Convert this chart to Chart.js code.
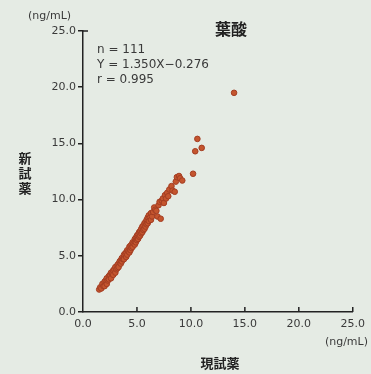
<!DOCTYPE html>
<html>
<head>
<meta charset="utf-8">
<script src="https://cdn.jsdelivr.net/npm/chart.js@4/dist/chart.umd.min.js"></script>
<style>
  html, body { margin: 0; padding: 0; background: #e5ebe4; }
  #wrap { width: 371px; height: 374px; }
</style>
</head>
<body>
<div id="wrap"><canvas id="folateChart" width="371" height="374"></canvas></div>
<script>
// 現試薬 (x) vs 新試薬 (y), ng/mL
const currentReagent = [
  1.5, 1.6, 1.7, 1.8, 1.9, 2.0, 2.0, 2.1, 2.2, 2.2,
  2.3, 2.4, 2.4, 2.5, 2.6, 2.6, 2.7, 2.8, 2.8, 2.9,
  3.0, 3.0, 3.1, 3.2, 3.2, 3.3, 3.3, 3.4, 3.5, 3.5,
  3.6, 3.6, 3.7, 3.8, 3.8, 3.9, 4.0, 4.0, 4.1, 4.1,
  4.2, 4.3, 4.3, 4.4, 4.4, 4.5, 4.5, 4.6, 4.6, 4.7,
  4.8, 4.8, 4.9, 4.9, 5.0, 5.0, 5.1, 5.1, 5.2, 5.2,
  5.3, 5.3, 5.4, 5.4, 5.5, 5.5, 5.6, 5.6, 5.7, 5.7,
  5.8, 5.8, 5.9, 5.9, 6.0, 6.0, 6.1, 6.1, 6.2, 6.3,
  6.3, 6.4, 6.5, 6.6, 6.7, 6.8, 6.9, 7.0, 7.1, 7.2,
  7.3, 7.4, 7.5, 7.6, 7.7, 7.8, 7.9, 8.0, 8.2, 8.3,
  8.5, 8.6, 8.7, 8.9, 9.0, 9.2, 10.2, 10.4, 11.0, 10.6,
  14.0
];
const newReagent = [
  2.0, 2.2, 2.1, 2.5, 2.3, 2.7, 2.3, 2.8, 2.5, 3.0,
  2.8, 3.2, 2.9, 3.3, 3.5, 3.0, 3.4, 3.7, 3.3, 3.8,
  3.5, 4.0, 3.8, 4.2, 3.9, 4.3, 4.0, 4.5, 4.6, 4.3,
  4.8, 4.5, 4.7, 5.1, 4.7, 5.2, 5.3, 4.9, 5.5, 5.1,
  5.4, 5.8, 5.3, 5.9, 5.5, 6.0, 5.7, 6.2, 5.8, 6.1,
  6.5, 6.0, 6.6, 6.2, 6.8, 6.4, 6.9, 6.5, 7.1, 6.7,
  7.2, 6.8, 7.4, 7.0, 7.6, 7.1, 7.7, 7.3, 7.9, 7.4,
  8.0, 7.6, 8.2, 7.8, 8.4, 7.9, 8.6, 8.1, 8.4, 8.2,
  8.8, 8.5, 8.9, 9.3, 9.1, 9.0, 8.5, 9.5, 9.8, 8.3,
  9.9, 10.1, 9.7, 10.4, 10.1, 10.6, 10.3, 10.9, 11.2, 10.8,
  10.7, 11.6, 12.0, 12.1, 11.9, 11.7, 12.3, 14.3, 14.6, 15.4,
  19.5
];
const tickValues = [0, 5, 10, 15, 20, 25];
const statLines = ['n = 111', 'Y = 1.350X\u22120.276', 'r = 0.995'];

const points = currentReagent.map((x, i) => ({ x: x, y: newReagent[i] }));
const textColor = '#3a3a3a';

// extra drawing: inward x ticks, top corner tick, titles and units
const annotations = {
  id: 'annotations',
  afterDraw(chart) {
    const ctx = chart.ctx;
    const xs = chart.scales.x;
    const area = chart.chartArea;
    ctx.save();
    ctx.strokeStyle = '#222';
    ctx.lineWidth = 1.5;
    ctx.beginPath();
    tickValues.slice(1).forEach(v => {
      const px = xs.getPixelForValue(v);
      ctx.moveTo(px, area.bottom);
      ctx.lineTo(px, area.bottom - 5);
    });
    ctx.moveTo(area.left, area.top);
    ctx.lineTo(area.left + 5, area.top);
    ctx.stroke();

    ctx.fillStyle = textColor;
    ctx.font = '11px "DejaVu Sans", sans-serif';
    ctx.textBaseline = 'middle';
    ctx.textAlign = 'left';
    ctx.fillText('(ng/mL)', 28, 16);
    ctx.textAlign = 'right';
    ctx.fillText('(ng/mL)', 368, 342);

    ctx.textAlign = 'left';
    ctx.font = '12px "DejaVu Sans", sans-serif';
    statLines.forEach((t, i) => ctx.fillText(t, 97, 50 + i * 15));

    ctx.textAlign = 'center';
    ctx.font = 'bold 16px "Noto Sans CJK JP", sans-serif';
    ctx.fillStyle = '#222';
    ctx.fillText('葉酸', 231, 29);

    ctx.font = 'bold 13px "Noto Sans CJK JP", sans-serif';
    ctx.fillText('現試薬', 220, 363);
    ['新', '試', '薬'].forEach((c, i) => ctx.fillText(c, 25, 158 + i * 15));
    ctx.restore();
  }
};

new Chart(document.getElementById('folateChart'), {
  type: 'scatter',
  data: {
    datasets: [{
      data: points,
      backgroundColor: '#c4552e',
      borderColor: '#a33d22',
      borderWidth: 1,
      pointRadius: 2.8,
      pointHoverRadius: 2.8
    }]
  },
  options: {
    responsive: false,
    animation: false,
    layout: { padding: { top: 31, right: 18, left: 0, bottom: 0 } },
    plugins: { legend: { display: false }, tooltip: { enabled: false } },
    scales: {
      x: {
        type: 'linear',
        min: 0,
        max: 25,
        afterFit: s => { s.height = 62; },
        afterBuildTicks: s => { s.ticks = tickValues.map(v => ({ value: v })); },
        border: { display: true, color: '#222', width: 1.5 },
        grid: { display: false, drawTicks: false },
        ticks: {
          padding: 6,
          color: textColor,
          font: { family: '"DejaVu Sans", sans-serif', size: 11 },
          maxRotation: 0,
          callback: v => v.toFixed(1)
        }
      },
      y: {
        type: 'linear',
        min: 0,
        max: 25,
        afterFit: s => { s.width = 83; },
        afterBuildTicks: s => { s.ticks = tickValues.map(v => ({ value: v })); },
        border: { display: true, color: '#222', width: 1.5 },
        grid: { drawOnChartArea: false, drawTicks: true, tickLength: 5, color: '#222', lineWidth: 1.5 },
        ticks: {
          padding: 2,
          color: textColor,
          font: { family: '"DejaVu Sans", sans-serif', size: 11 },
          callback: v => v.toFixed(1)
        }
      }
    }
  },
  plugins: [annotations]
});
</script>
</body>
</html>
